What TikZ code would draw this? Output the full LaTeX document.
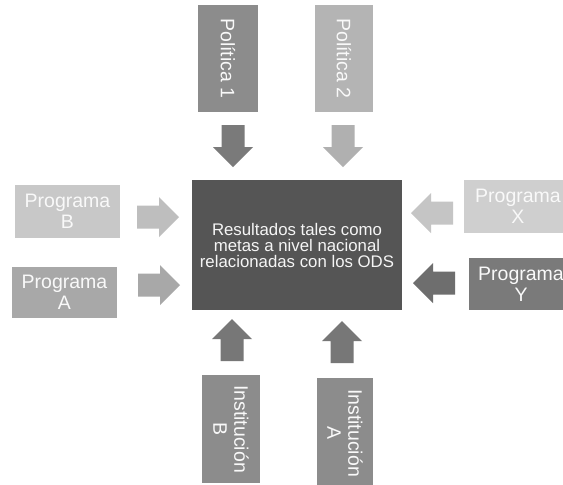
\documentclass[tikz,border=0pt]{standalone}
\usepackage{fontspec}
\setmainfont{Liberation Sans}
\newfontfamily\wf{Liberation Sans}
\definecolor{cpa}{HTML}{8C8C8C}
\definecolor{cpb}{HTML}{B4B4B4}
\definecolor{aa}{HTML}{7A7A7A}
\definecolor{ab}{HTML}{B0B0B0}
\definecolor{cprb}{HTML}{C8C8C8}
\definecolor{cpra}{HTML}{A8A8A8}
\definecolor{cprx}{HTML}{CFCFCF}
\definecolor{cpry}{HTML}{7A7A7A}
\definecolor{ains}{HTML}{777777}
\definecolor{cins}{HTML}{8C8C8C}
\definecolor{ccen}{HTML}{555555}
\newcommand\blockarr[4]{\fill[#1, shift={(#2,#3)}, rotate=#4] (-21,-11.5) -- (1,-11.5) -- (1,-20) -- (21,0) -- (1,20) -- (1,11.5) -- (-21,11.5) -- cycle;}
\begin{document}
\begin{tikzpicture}[x=1pt,y=-1pt,
  box/.style={inner sep=0pt, text=white!95!gray, align=center, font=\wf\fontsize{19.5}{21}\selectfont},
  vbox/.style={box, rotate=-90},
  cbox/.style={inner sep=0pt, text=white!92!gray, align=center, font=\wf\fontsize{16.8}{16}\selectfont}]
\useasboundingbox (0,0) rectangle (563,485);
\clip (0,0) rectangle (563,485);
\fill[white] (0,0) rectangle (563,485);
% central box
\node[cbox, fill=ccen, minimum width=210, minimum height=130] (cen) at (297,245) {Resultados tales como\\metas a nivel nacional\\relacionadas con los ODS};
% top
\node[vbox, fill=cpa, minimum width=107, minimum height=60] (pol1) at (228,58.5) {Política 1};
\node[vbox, fill=cpb, minimum width=107, minimum height=58] (pol2) at (344,58.5) {Política 2};
% left
\node[box, fill=cprb, minimum width=105, minimum height=53] (prb) at (67.5,211.5) {Programa\\B};
\node[box, fill=cpra, minimum width=105, minimum height=51] (pra) at (64.5,292.5) {Programa\\A};
% right
\node[box, fill=cprx, minimum width=108, minimum height=53] (prx) at (518,206.5) {Programa\\X};
\node[box, fill=cpry, minimum width=104, minimum height=52] (pry) at (521,284) {Programa\\Y};
% bottom
\node[vbox, fill=cins, minimum width=108, minimum height=58] (inb) at (231,429) {Institución\\B};
\node[vbox, fill=cins, minimum width=110, minimum height=56] (ina) at (345,433) {Institución\\A};
% arrows
\blockarr{aa}{233}{146}{-90}
\blockarr{ab}{343}{146}{-90}
\blockarr{cprb!95!black}{158}{217}{0}
\blockarr{cpra}{159}{285}{0}
\blockarr{cprx!95!black}{432}{213}{180}
\blockarr{cpry!90!black}{434}{283}{180}
\blockarr{ains}{232}{340}{90}
\blockarr{ains}{342}{342}{90}
\end{tikzpicture}
\end{document}
